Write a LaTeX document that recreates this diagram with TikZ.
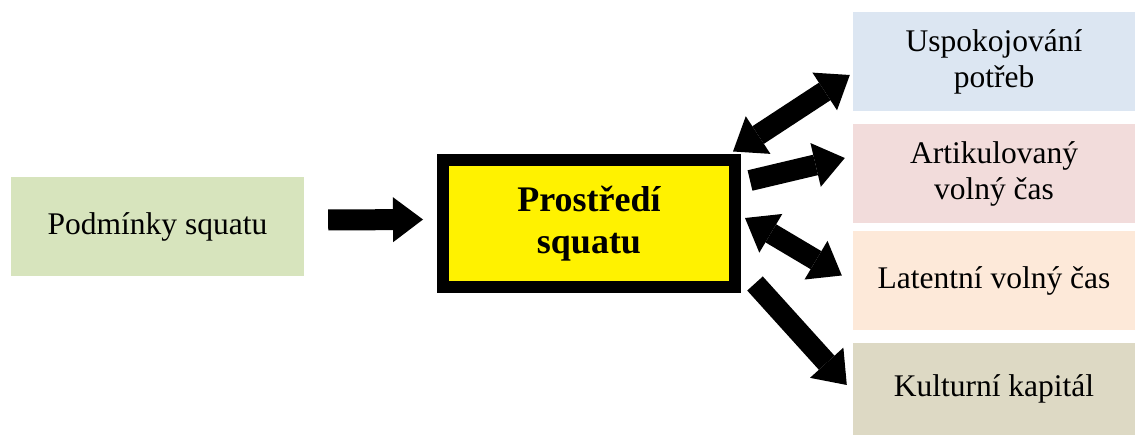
\documentclass[tikz,border=0pt]{standalone}
\usepackage{fontspec}
\setmainfont{Liberation Serif}
\usetikzlibrary{arrows.meta,calc}
\definecolor{cgreen}{HTML}{D7E4BD}
\definecolor{cblue}{HTML}{DCE6F2}
\definecolor{cpink}{HTML}{F2DCDB}
\definecolor{cpeach}{HTML}{FDE9D9}
\definecolor{ctan}{HTML}{DDD9C4}
\begin{document}
\begin{tikzpicture}[x=1pt,y=-1pt,
  box/.style={rectangle,draw=none,inner sep=0pt,align=center,
    font=\fontsize{31.5}{36}\selectfont},
  rbox/.style={box,minimum width=282pt,minimum height=99pt},
  ctrbox/.style={rectangle,draw=black,line width=12pt,fill=yellow,inner sep=0pt,
    align=center,minimum width=292pt,minimum height=127pt,
    font=\fontsize{36}{42}\selectfont\bfseries},
  blk/.style={line width=21pt,draw=black,
    -{Triangle[length=30pt,width=45pt,line width=0pt]}},
  dblk/.style={line width=21pt,draw=black,
    {Triangle[length=30pt,width=45pt,line width=0pt]}-{Triangle[length=30pt,width=45pt,line width=0pt]}}
]
\useasboundingbox (0,0) rectangle (1135,435);
\node[box,fill=cgreen,minimum width=293pt,minimum height=99pt] (left) at (157.5,227) {Podmínky squatu};
\node[ctrbox] (ctr) at (589,224) {Prostředí\\squatu};
\node[rbox,fill=cblue] (b1) at (994,62) {Uspokojování\\potřeb};
\node[rbox,fill=cpink] (b2) at (994,173.5) {Artikulovaný\\volný čas};
\node[rbox,fill=cpeach] (b3) at (994,280.5) {Latentní volný čas};
\node[rbox,fill=ctan,minimum height=92pt] (b4) at (994,389) {Kulturní kapitál};
\draw[blk] ($(left.east)+(24,-7)$) -- ($(ctr.west)+(-14,-4.5)$);
\draw[dblk] ($(ctr.north east)+(-8,-3)$) -- ($(b1.west)+(-3,13)$);
\draw[blk] ($(ctr.north east)+(9,26)$) -- ($(b2.west)+(-8,-15.5)$);
\draw[dblk] ($(ctr.east)+(4,-6)$) -- ($(b3.west)+(-11,-5)$);
\draw[blk] ($(ctr.south east)+(14,-10)$) -- ($(b4.west)+(-6,-4)$);
\end{tikzpicture}
\end{document}
